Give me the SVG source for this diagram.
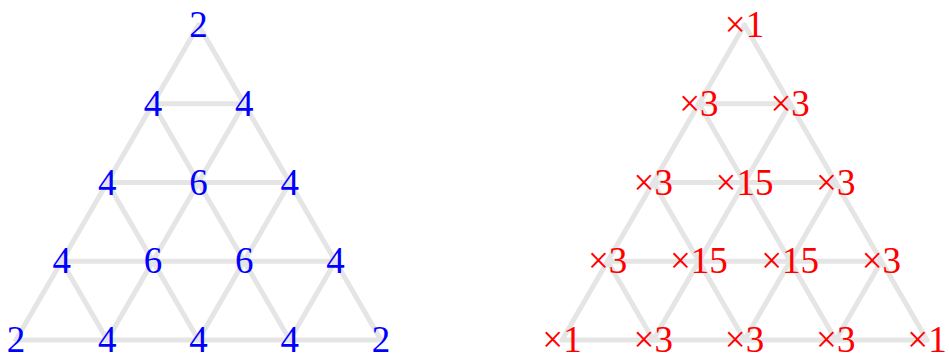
<svg xmlns="http://www.w3.org/2000/svg" width="949" height="353" viewBox="0 0 949 353">
<style>
.e{stroke:#e5e5e5;stroke-width:5;stroke-linecap:round;fill:none}
.t{font-family:"Liberation Serif","DejaVu Serif",serif;font-size:37px;text-anchor:middle}
.b{fill:#0000ff}
.r{fill:#ff0000}
</style>
<rect width="949" height="353" fill="#ffffff"/>
<defs>
<g id="grid">
<line class="e" x1="152.875" y1="103.75" x2="244.125" y2="103.75"/>
<line class="e" x1="107.25" y1="182.5" x2="289.75" y2="182.5"/>
<line class="e" x1="61.625" y1="261.25" x2="335.375" y2="261.25"/>
<line class="e" x1="16" y1="340" x2="381" y2="340"/>
<line class="e" x1="198.5" y1="25" x2="16" y2="340"/>
<line class="e" x1="244.125" y1="103.75" x2="107.25" y2="340"/>
<line class="e" x1="289.75" y1="182.5" x2="198.5" y2="340"/>
<line class="e" x1="335.375" y1="261.25" x2="289.75" y2="340"/>
<line class="e" x1="198.5" y1="25" x2="381" y2="340"/>
<line class="e" x1="152.875" y1="103.75" x2="289.75" y2="340"/>
<line class="e" x1="107.25" y1="182.5" x2="198.5" y2="340"/>
<line class="e" x1="61.625" y1="261.25" x2="107.25" y2="340"/>
</g>
</defs>
<g id="connectors">
<use href="#grid"/>
<use href="#grid" transform="translate(546,0)"/>
</g>
<g id="left" class="t b">
<g id="L00"><text x="198.5" y="37">2</text></g>
<g id="L10"><text x="152.875" y="115.75">4</text></g>
<g id="L11"><text x="244.125" y="115.75">4</text></g>
<g id="L20"><text x="107.25" y="194.5">4</text></g>
<g id="L21"><text x="198.5" y="194.5">6</text></g>
<g id="L22"><text x="289.75" y="194.5">4</text></g>
<g id="L30"><text x="61.625" y="273.25">4</text></g>
<g id="L31"><text x="152.875" y="273.25">6</text></g>
<g id="L32"><text x="244.125" y="273.25">6</text></g>
<g id="L33"><text x="335.375" y="273.25">4</text></g>
<g id="L40"><text x="16" y="352">2</text></g>
<g id="L41"><text x="107.25" y="352">4</text></g>
<g id="L42"><text x="198.5" y="352">4</text></g>
<g id="L43"><text x="289.75" y="352">4</text></g>
<g id="L44"><text x="381" y="352">2</text></g>
</g>
<g id="right" class="t r">
<g id="R00"><text x="744.5" y="37">×1</text></g>
<g id="R10"><text x="698.875" y="115.75">×3</text></g>
<g id="R11"><text x="790.125" y="115.75">×3</text></g>
<g id="R20"><text x="653.25" y="194.5">×3</text></g>
<g id="R21"><text x="744.5" y="194.5">×15</text></g>
<g id="R22"><text x="835.75" y="194.5">×3</text></g>
<g id="R30"><text x="607.625" y="273.25">×3</text></g>
<g id="R31"><text x="698.875" y="273.25">×15</text></g>
<g id="R32"><text x="790.125" y="273.25">×15</text></g>
<g id="R33"><text x="881.375" y="273.25">×3</text></g>
<g id="R40"><text x="562" y="352">×1</text></g>
<g id="R41"><text x="653.25" y="352">×3</text></g>
<g id="R42"><text x="744.5" y="352">×3</text></g>
<g id="R43"><text x="835.75" y="352">×3</text></g>
<g id="R44"><text x="927" y="352">×1</text></g>
</g>
</svg>
